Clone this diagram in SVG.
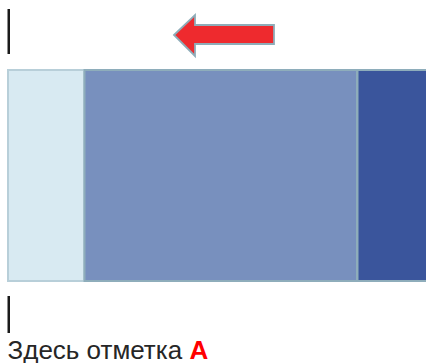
<svg xmlns="http://www.w3.org/2000/svg" width="426" height="363" viewBox="0 0 426 363">
<style>
.bar{fill:#1a1a1a}
.box{stroke-width:2}
.t{font-family:"Liberation Sans",Arial,sans-serif;font-size:26px;fill:#262626}
</style>
<rect width="426" height="363" fill="#fff"/>
<g id="marker-top"><rect class="bar" x="7.5" y="9" width="2.5" height="45"/></g>
<g id="arrow"><path d="M174,35 L195,15 L195,25 L274,25 L274,44 L195,44 L195,56 Z" fill="#EE2A2E" stroke="#8EACB8" stroke-width="1.8" stroke-linejoin="miter"/></g>
<g id="box-light"><rect class="box" x="8" y="70" width="76" height="211" fill="#D8EAF2" stroke="#B8CFD9"/></g>
<g id="box-mid"><rect class="box" x="84.5" y="70" width="272.5" height="211" fill="#7890BE" stroke="#8EADBB"/></g>
<g id="box-dark"><rect class="box" x="357.5" y="70" width="70" height="211" fill="#3A559C" stroke="#8EADBB"/></g>
<g id="marker-bottom"><rect class="bar" x="7.5" y="296" width="2.5" height="37"/></g>
<g id="label"><text class="t" x="7.5" y="359">Здесь отметка <tspan font-weight="bold" fill="#FF0000">A</tspan></text></g>
</svg>
